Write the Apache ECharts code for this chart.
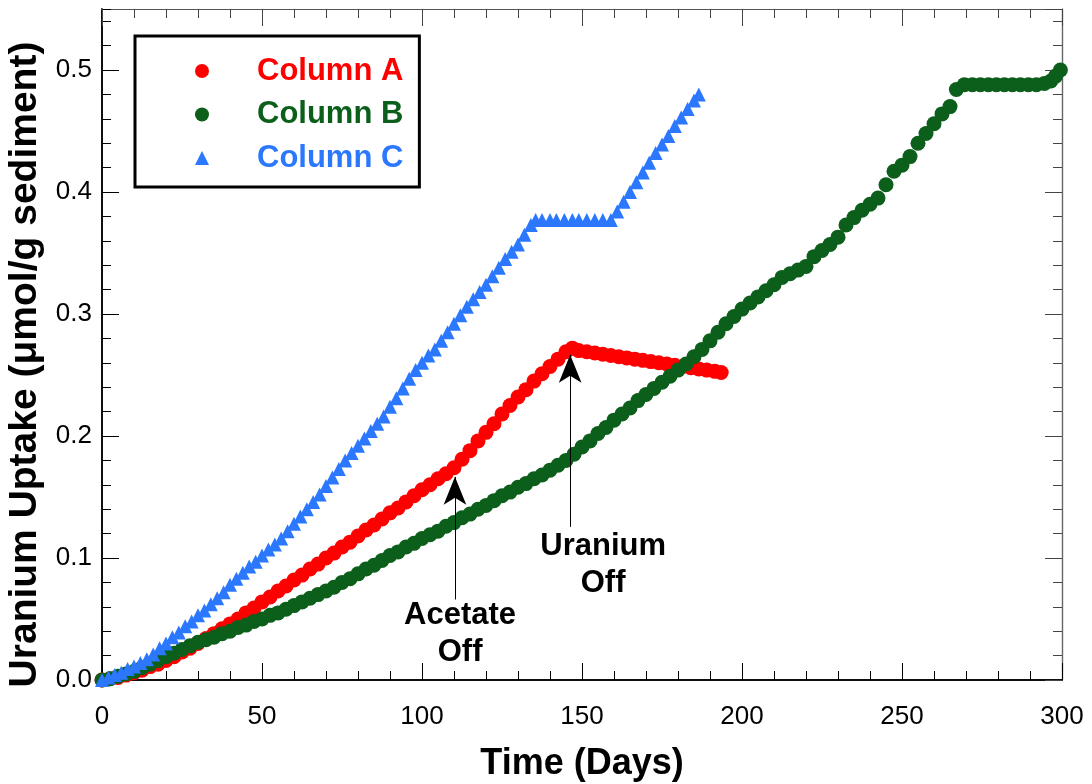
<!doctype html>
<html>
<head>
<meta charset="utf-8">
<style>
  html, body { margin: 0; padding: 0; background: #fff; }
  #main { width: 1092px; height: 784px; }
</style>
</head>
<body>
<div id="main"></div>
<script src="https://cdn.jsdelivr.net/npm/echarts@6/dist/echarts.min.js"></script>
<script>
// Column A (red circles)
var aDays = [0, 2.5, 5, 7.5, 10, 12.5, 15, 17.5, 20, 22.5, 25, 27.5, 30, 32.5, 35, 37.5, 40, 42.5, 45, 47.5,
  50, 52.5, 55, 57.5, 60, 62.5, 65, 67.5, 70, 72.5, 75, 77.5, 80, 82.5, 85, 87.5, 90, 92.5, 95, 97.5,
  100, 102.5, 105, 107.5, 110, 112.5, 115, 117.5, 120, 122.5, 125, 127.5, 130, 132.5, 135, 137.5, 140, 142.5, 145, 147,
  149, 151.5, 154, 156.5, 159, 161.5, 164, 166.5, 169, 171.5, 174, 176.5, 179, 181.5, 184, 186.5, 189, 191.5, 193.5];
var aUptake = [0.000, 0.001, 0.002, 0.004, 0.006, 0.008, 0.011, 0.013, 0.016, 0.019, 0.023, 0.026, 0.030, 0.034, 0.038, 0.042, 0.046, 0.050, 0.055, 0.059,
  0.064, 0.068, 0.073, 0.077, 0.082, 0.086, 0.091, 0.095, 0.100, 0.104, 0.109, 0.113, 0.118, 0.123, 0.127, 0.132, 0.137, 0.141, 0.146, 0.151,
  0.156, 0.160, 0.165, 0.169, 0.174, 0.181, 0.188, 0.196, 0.203, 0.210, 0.218, 0.225, 0.232, 0.238, 0.245, 0.251, 0.257, 0.263, 0.269, 0.272,
  0.270, 0.269, 0.268, 0.267, 0.266, 0.265, 0.264, 0.263, 0.262, 0.261, 0.260, 0.259, 0.258, 0.257, 0.256, 0.255, 0.254, 0.253, 0.252];

// Column B (green circles)
var bDays = [0, 2.5, 5, 7.5, 10, 12.5, 15, 17.5, 20, 22.5, 25, 27.5, 30, 32.5, 35, 37.5, 40, 42.5, 45, 47.5,
  50, 52.5, 55, 57.5, 60, 62.5, 65, 67.5, 70, 72.5, 75, 77.5, 80, 82.5, 85, 87.5, 90, 92.5, 95, 97.5,
  100, 102.5, 105, 107.5, 110, 112.5, 115, 117.5, 120, 122.5, 125, 127.5, 130, 132.5, 135, 137.5, 140, 142.5, 145, 147.5,
  150, 152.5, 155, 157.5, 160, 162.5, 165, 167.5, 170, 172.5, 175, 177.5, 180, 182.5, 185, 187.5, 190, 192.5, 195, 197.5,
  200, 202.5, 205, 207.5, 210, 212.5, 215, 217.5, 220, 222.5, 225, 227.5, 230, 232.5, 235, 237.5, 240, 242.5, 245, 247.5,
  250, 252.5, 255, 257.5, 260, 262.5, 265, 267, 269.5, 272, 274.5, 277, 279.5, 282, 284.5, 287, 289.5, 292, 294.5, 296.5, 298, 299.5];
var bUptake = [0.000, 0.001, 0.003, 0.005, 0.007, 0.010, 0.013, 0.016, 0.019, 0.022, 0.025, 0.028, 0.031, 0.033, 0.035, 0.038, 0.040, 0.043, 0.045, 0.048,
  0.050, 0.053, 0.055, 0.058, 0.061, 0.064, 0.067, 0.070, 0.073, 0.076, 0.080, 0.083, 0.087, 0.091, 0.094, 0.098, 0.102, 0.105, 0.109, 0.112,
  0.116, 0.119, 0.122, 0.126, 0.129, 0.133, 0.136, 0.140, 0.143, 0.147, 0.151, 0.154, 0.158, 0.161, 0.165, 0.168, 0.172, 0.176, 0.180, 0.185,
  0.191, 0.196, 0.202, 0.207, 0.213, 0.218, 0.223, 0.229, 0.234, 0.239, 0.244, 0.249, 0.254, 0.259, 0.265, 0.271, 0.278, 0.285, 0.292, 0.298,
  0.304, 0.309, 0.314, 0.319, 0.324, 0.330, 0.333, 0.336, 0.339, 0.347, 0.352, 0.357, 0.363, 0.373, 0.379, 0.385, 0.390, 0.395, 0.406, 0.417,
  0.422, 0.429, 0.440, 0.448, 0.456, 0.464, 0.470, 0.484, 0.488, 0.488, 0.488, 0.488, 0.488, 0.488, 0.488, 0.488, 0.488, 0.488, 0.489, 0.491, 0.495, 0.500];

// Column C (blue triangles)
var cDays = [0, 2, 4, 6, 8, 10, 12, 14, 16, 18, 20, 22, 24, 26, 28, 30, 32, 34, 36, 38,
  40, 42, 44, 46, 48, 50, 52, 54, 56, 58, 60, 62, 64, 66, 68, 70, 72, 74, 76, 78,
  80, 82, 84, 86, 88, 90, 92, 94, 96, 98, 100, 102, 104, 106, 108, 110, 112, 114, 116, 118,
  120, 122, 124, 126, 128, 130, 132, 134, 135.5, 137.5, 140, 142, 144.5, 147, 149, 151.5, 154, 156.5, 159,
  161, 163, 165, 167, 169, 171, 173, 175, 177, 179, 181, 183, 185, 186.5];
var cUptake = [0.000, 0.002, 0.004, 0.006, 0.009, 0.011, 0.014, 0.017, 0.021, 0.026, 0.030, 0.035, 0.039, 0.044, 0.048, 0.053, 0.057, 0.062, 0.067, 0.072,
  0.078, 0.083, 0.088, 0.093, 0.097, 0.102, 0.107, 0.111, 0.116, 0.122, 0.128, 0.134, 0.140, 0.146, 0.152, 0.159, 0.166, 0.173, 0.180, 0.186,
  0.192, 0.198, 0.204, 0.210, 0.216, 0.224, 0.231, 0.239, 0.247, 0.254, 0.260, 0.266, 0.271, 0.278, 0.285, 0.292, 0.299, 0.306, 0.312, 0.318,
  0.324, 0.331, 0.338, 0.345, 0.351, 0.357, 0.365, 0.373, 0.377, 0.377, 0.377, 0.377, 0.377, 0.377, 0.377, 0.377, 0.377, 0.377, 0.377,
  0.384, 0.392, 0.400, 0.408, 0.416, 0.424, 0.432, 0.439, 0.446, 0.454, 0.461, 0.468, 0.475, 0.480];

// annotation arrows: day, tail value, head (tip) value
var arrowDays = [110.3, 146.3];
var arrowFrom = [0.066, 0.1255];
var arrowTo = [0.1665, 0.2666];
var noteText = ['Acetate\nOff', 'Uranium\nOff'];
var noteDays = [111.9, 156.6];
var noteValues = [0.038, 0.0947];

var font = '"Liberation Sans", Arial, sans-serif';
var red = '#ff0000', green = '#0b5f1b', blue = '#2b78ff';

function pairs(x, y) {
    return x.map(function (d, i) { return [d, y[i]]; });
}

function xAx(pos, interval, len, withLabels) {
    var dark = pos === 'bottom';
    var ax = {
        type: 'value', position: pos, min: 0, max: 300, interval: interval,
        axisLine: { show: true, onZero: false, lineStyle: { color: dark ? '#000' : '#555', width: dark ? 1.5 : 1.2 } },
        axisTick: { show: true, inside: true, length: len, lineStyle: { color: dark ? '#000' : '#444', width: 1 } },
        axisLabel: { show: withLabels, color: '#000', fontSize: 26, fontFamily: font, margin: 24 },
        splitLine: { show: false }
    };
    if (withLabels) {
        ax.name = 'Time (Days)';
        ax.nameLocation = 'middle';
        ax.nameGap = 66;
        ax.nameTextStyle = { color: '#000', fontSize: 36, fontWeight: 'bold', fontFamily: font };
    }
    return ax;
}

function yAx(pos, interval, len, withLabels) {
    var dark = pos === 'left';
    var ax = {
        type: 'value', position: pos, min: 0, max: 0.55, interval: interval,
        axisLine: { show: true, onZero: false, lineStyle: { color: dark ? '#000' : '#666', width: dark ? 1.5 : 1.2 } },
        axisTick: { show: true, inside: true, length: len, lineStyle: { color: dark ? '#000' : '#444', width: 1 } },
        axisLabel: {
            show: withLabels, color: '#000', fontSize: 26, fontFamily: font, margin: 10,
            showMaxLabel: false,
            formatter: function (v) { return v.toFixed(1); }
        },
        splitLine: { show: false }
    };
    if (withLabels) {
        ax.name = 'Uranium Uptake (\u03bcmol/g sediment)';
        ax.nameLocation = 'middle';
        ax.nameGap = 47;
        // extra padding on the text's end pushes it down the axis
        ax.nameTextStyle = { color: '#000', fontSize: 39, fontWeight: 'bold', fontFamily: font, padding: [0, 40, 0, 0] };
    }
    return ax;
}

var chart = echarts.init(document.getElementById('main'));

chart.setOption({
    animation: false,
    backgroundColor: '#fff',
    grid: { left: 102, right: 30, top: 9, bottom: 104, containLabel: false, outerBoundsMode: 'none' },
    xAxis: [
        xAx('bottom', 10, 9, false),
        xAx('bottom', 50, 17, true),
        xAx('top', 10, 9, false),
        xAx('top', 50, 17, false)
    ],
    yAxis: [
        yAx('left', 0.02, 9, false),
        yAx('left', 0.1, 17, true),
        yAx('right', 0.02, 9, false),
        yAx('right', 0.1, 17, false)
    ],
    legend: {
        left: 135, top: 36, orient: 'vertical',
        selectedMode: false,
        borderColor: '#000', borderWidth: 3,
        padding: [17, 16, 11, 60],
        itemWidth: 14, itemHeight: 14, itemGap: 7.5,
        textStyle: { fontSize: 31, fontWeight: 'bold', fontFamily: font, lineHeight: 36, padding: [0, 0, 0, 43] },
        data: [
            { name: 'Column A', textStyle: { color: red } },
            { name: 'Column B', textStyle: { color: green } },
            { name: 'Column C', textStyle: { color: blue } }
        ]
    },
    series: [
        {
            name: 'Column A', type: 'scatter', symbol: 'circle', symbolSize: 15,
            itemStyle: { color: red, opacity: 1 },
            data: pairs(aDays, aUptake)
        },
        {
            name: 'Column B', type: 'scatter', symbol: 'circle', symbolSize: 15,
            itemStyle: { color: green, opacity: 1 },
            data: pairs(bDays, bUptake)
        },
        {
            name: 'Column C', type: 'scatter', symbol: 'triangle', symbolSize: 14,
            itemStyle: { color: blue, opacity: 1 },
            data: pairs(cDays, cUptake),
            markLine: {
                silent: true,
                animation: false,
                symbol: ['none', 'arrow'],
                lineStyle: { color: '#000', width: 1, type: 'solid' },
                label: { show: false },
                emphasis: { disabled: true },
                data: arrowDays.map(function (d, i) {
                    return [
                        { coord: [d, arrowFrom[i]], symbol: 'none' },
                        { coord: [d, arrowTo[i]], symbol: 'arrow', symbolSize: [17, 28] }
                    ];
                })
            },
            markPoint: {
                silent: true,
                animation: false,
                symbol: 'circle', symbolSize: 0,
                label: {
                    show: true, position: 'inside', color: '#000',
                    fontSize: 31, fontWeight: 'bold', fontFamily: font, lineHeight: 37,
                    formatter: '{b}'
                },
                data: noteText.map(function (t, i) {
                    return { name: t, coord: [noteDays[i], noteValues[i]] };
                })
            }
        }
    ]
});

window.onresize = chart.resize;
</script>
</body>
</html>
